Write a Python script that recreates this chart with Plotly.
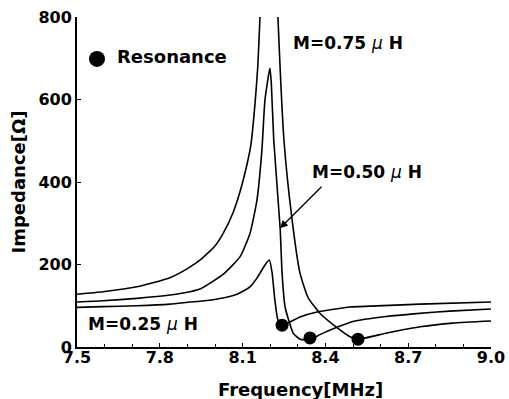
import plotly.graph_objects as go

# M = 0.75 uH (peak goes off-scale; gap where it leaves the plot)
freq_075 = [7.5, 7.594, 7.717, 7.837, 7.9, 7.95, 8.0, 8.03, 8.065, 8.09, 8.115, 8.13, 8.145, 8.155, 8.163, 8.167,
            None,
            8.225, 8.228, 8.25, 8.279, 8.308, 8.337, 8.38, 8.442, 8.489, 8.518, 8.623, 8.743, 8.862, 9.0]
imp_075 = [128, 134, 146, 168, 190, 213, 245, 276, 325, 375, 440, 490, 590, 680, 800, 860,
           None,
           860, 800, 500, 310, 179, 120, 82, 47, 25, 19, 34, 49, 58, 63]

# M = 0.50 uH
freq_050 = [7.5, 7.594, 7.717, 7.837, 7.909, 7.95, 8.029, 8.091, 8.127, 8.152, 8.17, 8.181, 8.199,
            8.204, 8.213, 8.236, 8.243, 8.254, 8.284, 8.308, 8.344, 8.38, 8.435, 8.5, 8.62, 8.73, 8.85, 9.0]
imp_050 = [109, 112, 118, 126, 134, 142, 176, 219, 276, 356, 478, 599, 676,
           640, 500, 288, 179, 97, 33, 19, 18, 30, 46, 62, 74, 81, 87, 92]

# M = 0.25 uH
freq_025 = [7.5, 7.594, 7.717, 7.837, 7.909, 7.946, 8.029, 8.08, 8.127, 8.152, 8.163, 8.181, 8.197,
            8.207, 8.217, 8.228, 8.243, 8.308, 8.37, 8.489, 8.562, 8.743, 9.0]
imp_025 = [96, 98, 100, 104, 109, 111, 119, 128, 146, 167, 179, 199, 211,
           179, 114, 65, 53, 73, 85, 97, 99, 104, 109]

# Resonance points
res_freq = [8.243, 8.344, 8.518]
res_imp = [53, 22, 19]

FONT = "DejaVu Sans"

fig = go.Figure()
for fx, fy in [(freq_075, imp_075), (freq_050, imp_050), (freq_025, imp_025)]:
    fig.add_trace(go.Scatter(x=fx, y=fy, mode="lines", connectgaps=False,
                             line=dict(color="black", width=1.6, shape="spline", smoothing=0.5),
                             showlegend=False, hoverinfo="skip"))
fig.add_trace(go.Scatter(x=res_freq, y=res_imp, mode="markers",
                         marker=dict(color="black", size=13), showlegend=False))

fig.update_layout(
    width=509, height=399,
    margin=dict(l=77, r=18, t=17, b=52, autoexpand=False),
    paper_bgcolor="white", plot_bgcolor="white",
    font=dict(family=FONT, color="black", size=16),
    xaxis=dict(range=[7.5, 9.0], tickvals=[7.5, 7.8, 8.1, 8.4, 8.7, 9.0],
               ticktext=["7.5", "7.8", "8.1", "8.4", "8.7", "9.0"],
               ticks="inside", ticklen=4, tickwidth=1.2, tickcolor="black",
               minor=dict(dtick=0.1, tick0=7.5, ticks="inside", ticklen=3, tickcolor="black"),
               showline=True, linecolor="black", linewidth=1.8,
               showgrid=False, zeroline=False, automargin=False,
               ticklabelstandoff=-5, ticklabeloverflow="allow",
               tickfont=dict(family=FONT, size=16, weight="bold")),
    yaxis=dict(range=[0, 800], tickvals=[0, 200, 400, 600, 800],
               ticks="inside", ticklen=4, tickwidth=1.2, tickcolor="black",
               showline=True, linecolor="black", linewidth=1.8,
               showgrid=False, zeroline=False, automargin=False,
               ticklabeloverflow="allow",
               tickfont=dict(family=FONT, size=16, weight="bold"),
               title=dict(text="Impedance[Ω]", font=dict(family=FONT, size=18, weight="bold"),
                          standoff=8)),
    showlegend=False,
)

bold18 = dict(family=FONT, size=18, color="black", weight="bold")
bold17 = dict(family=FONT, size=17, color="black", weight="bold")

fig.add_annotation(xref="paper", yref="paper", x=0.541, y=-0.13, text="Frequency[MHz]",
                   showarrow=False, font=bold18, xanchor="center", yanchor="middle")
fig.add_annotation(xref="paper", yref="paper", x=0.0918, y=0.879, text="Resonance",
                   showarrow=False, font=bold18, xanchor="left", yanchor="middle")
fig.add_shape(type="circle", xref="paper", yref="paper", xsizemode="pixel", ysizemode="pixel",
              xanchor=0.0483, yanchor=0.873, x0=-8, x1=8, y0=-8, y1=8,
              fillcolor="black", line=dict(color="black", width=0))
fig.add_annotation(xref="paper", yref="paper", x=0.655, y=0.921,
                   text="M=0.75 <i style='font-weight:normal'>μ</i> H",
                   showarrow=False, font=bold17, xanchor="center", yanchor="middle")
fig.add_annotation(xref="paper", yref="paper", x=0.700, y=0.530,
                   text="M=0.50 <i style='font-weight:normal'>μ</i> H",
                   showarrow=False, font=bold17, xanchor="center", yanchor="middle")
fig.add_annotation(xref="paper", yref="paper", x=0.159, y=0.0697,
                   text="M=0.25 <i style='font-weight:normal'>μ</i> H",
                   showarrow=False, font=bold17, xanchor="center", yanchor="middle")
# arrow pointing at the M=0.50 curve
fig.add_annotation(x=8.2355, y=288, xref="x", yref="y", text="", showarrow=True,
                   ax=43, ay=-43, arrowhead=2, arrowsize=1.2, arrowwidth=1.3, arrowcolor="black")

fig.write_html("out.html", config={"displayModeBar": False},
               post_script="document.body.style.margin='0';document.body.style.overflow='hidden';")
